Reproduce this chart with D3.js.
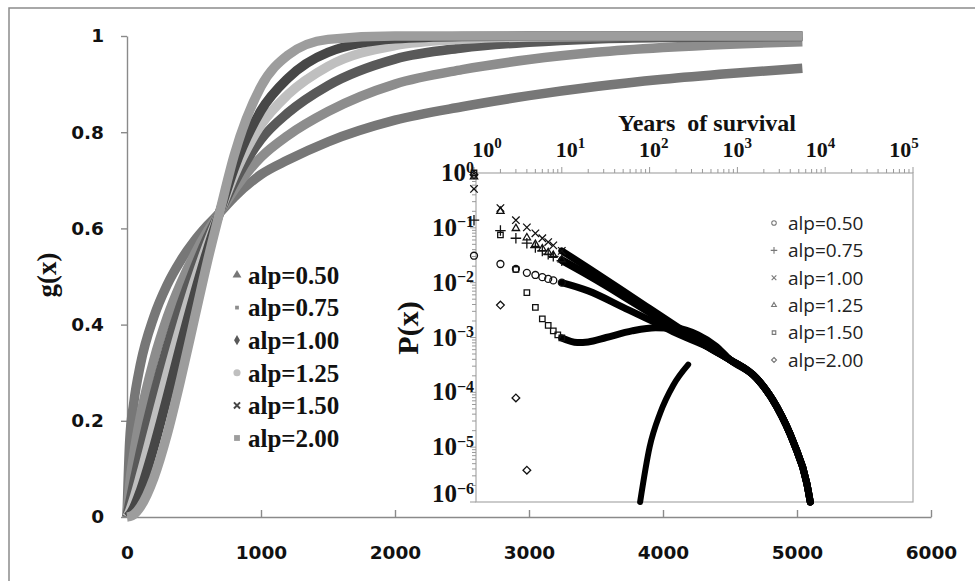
<!DOCTYPE html>
<html>
<head>
<meta charset="utf-8">
<script src="https://cdn.jsdelivr.net/npm/d3@7"></script>
<style>
  body { margin: 0; background: #fff; }
  svg { display: block; }
</style>
</head>
<body>
<svg id="chart" width="975" height="581"></svg>
<script>
// ---- main panel: g(x), one band per alp value
const gX = [0, 20, 50, 100, 200, 300, 400, 500, 600, 690, 800, 1000, 1200, 1500, 2000, 2500, 3000, 3500, 4000, 4500, 5040];
const g050 = [0, .157, .236, .317, .416, .483, .533, .573, .606, .632, .665, .712, .742, .780, .825, .853, .876, .895, .910, .922, .933];
const g075 = [0, .068, .130, .209, .326, .415, .485, .544, .594, .632, .680, .748, .793, .843, .900, .930, .951, .966, .976, .983, .988];
const g100 = [0, .029, .070, .135, .252, .353, .440, .515, .581, .632, .695, .785, .840, .897, .952, .975, .987, .994, .997, .998, .999];
const g125 = [0, .012, .037, .086, .192, .298, .397, .488, .568, .632, .710, .815, .878, .937, .980, .993, .998, .999, 1, 1, 1];
const g150 = [0, .005, .019, .054, .145, .249, .357, .460, .555, .632, .725, .845, .912, .966, .994, .999, 1, 1, 1, 1, 1];
const g200 = [0, .001, .005, .021, .081, .172, .285, .408, .531, .632, .752, .895, .960, .993, 1, 1, 1, 1, 1, 1, 1];
const alpNames = ["alp=0.50", "alp=0.75", "alp=1.00", "alp=1.25", "alp=1.50", "alp=2.00"];
const gTicksY = [0, 0.2, 0.4, 0.6, 0.8, 1];
const gTicksX = [0, 1000, 2000, 3000, 4000, 5000, 6000];

// ---- inset: P(x) against years of survival (log-log)
const pX = [1, 2, 3, 4, 5, 6, 7, 8, 10, 20, 50, 100, 200, 500, 830, 1660, 2820, 4370, 6170, 6760];
const p050 = [0.031, 0.0219, 0.0178, 0.0151, 0.0138, 0.0126, 0.0117, 0.011, 0.010, 0.00708, 0.00355, 0.00209, 0.0012, 6.3e-4, 3.9e-4, 1.8e-4, 5.4e-5, 1.2e-5, 2.2e-6, 1.0e-6];
const p075 = [0.138, 0.0891, 0.0646, 0.0525, 0.0437, 0.038, 0.0331, 0.0302, 0.0251, 0.0135, 0.00562, 0.00282, 0.00145, 6.3e-4, 3.9e-4, 1.8e-4, 5.4e-5, 1.2e-5, 2.2e-6, 1.0e-6];
const p100 = [0.513, 0.229, 0.138, 0.102, 0.0794, 0.0646, 0.055, 0.0479, 0.038, 0.0186, 0.00708, 0.00339, 0.00162, 6.2e-4, 3.9e-4, 1.8e-4, 5.4e-5, 1.2e-5, 2.2e-6, 1.0e-6];
const p125 = [0.85, 0.2, 0.0977, 0.0661, 0.0501, 0.0417, 0.0355, 0.0316, 0.0263, 0.0141, 0.00603, 0.00302, 0.00151, 6.3e-4, 3.9e-4, 1.8e-4, 5.4e-5, 1.2e-5, 2.2e-6, 1.0e-6];
const pX150 = [1, 2, 3, 4, 5, 6, 7, 8, 9, 10, 15, 20, 32, 63, 117, 200, 355, 560, 830, 1660, 2820, 4370, 6170, 6760];
const p150 = [1.0, 0.0741, 0.0174, 0.0066, 0.00355, 0.00219, 0.00166, 0.00132, 0.00112, 9.8e-4, 8.1e-4, 8.3e-4, 1.0e-3, 1.32e-3, 1.51e-3, 1.48e-3, 1.12e-3, 7.1e-4, 3.9e-4, 1.8e-4, 5.4e-5, 1.2e-5, 2.2e-6, 1.0e-6];
const pX200a = [1, 2, 3, 4];
const p200a = [0.93, 0.0039, 7.9e-5, 3.8e-6];
const pX200b = [78, 100, 132, 186, 275];
const p200b = [1.0e-6, 1.0e-5, 4.2e-5, 1.35e-4, 3.2e-4];

const svg = d3.select("#chart");
const serif = "'Liberation Serif', 'Times New Roman', serif";
const sansB = "'DejaVu Sans', Verdana, sans-serif";

// outer frame
svg.append("rect")
  .attr("x", 9).attr("y", 8).attr("width", 980).attr("height", 600)
  .attr("fill", "none").attr("stroke", "#8c8c8c").attr("stroke-width", 1.5);

// ---------- main chart ----------
const x = d3.scaleLinear().domain([0, 6000]).range([127, 931]);
const y = d3.scaleLinear().domain([0, 1]).range([517, 36]);

const yAxis = svg.append("g")
  .attr("transform", "translate(127,0)")
  .call(d3.axisLeft(y).tickValues(gTicksY).tickSize(6).tickSizeOuter(0).tickPadding(17)
    .tickFormat(d => (d === 0 || d === 1) ? String(d) : d.toFixed(1)));
const xAxis = svg.append("g")
  .attr("transform", "translate(0,517)")
  .call(d3.axisBottom(x).tickValues(gTicksX).tickSizeInner(-7).tickSizeOuter(0).tickPadding(29)
    .tickFormat(d3.format("d")));
[xAxis, yAxis].forEach(a => {
  a.selectAll("path, line").attr("stroke", "#8a8a8a").attr("stroke-width", 1.4);
  a.selectAll("text").attr("font-family", sansB).attr("font-weight", "bold")
    .attr("font-size", 18.5).attr("fill", "#111");
});

svg.append("text")
  .attr("transform", "translate(56,275) rotate(-90)")
  .attr("text-anchor", "middle")
  .attr("font-family", serif).attr("font-weight", "bold").attr("font-size", 27)
  .attr("fill", "#111").text("g(x)");

const gSeries = [
  { v: g050, color: "#777777", sym: d3.symbolTriangle, size: 34 },
  { v: g075, color: "#8d8d8d", sym: d3.symbolSquare, size: 14 },
  { v: g100, color: "#595959", sym: d3.symbolDiamond, size: 30 },
  { v: g125, color: "#bfbfbf", sym: d3.symbolCircle, size: 40 },
  { v: g150, color: "#474747", sym: d3.symbolX, size: 26, stroke: true },
  { v: g200, color: "#9d9d9d", sym: d3.symbolSquare, size: 34 }
];

const gLine = d3.line()
  .x(d => x(d[0]))
  .y(d => y(d[1]))
  .curve(d3.curveMonotoneX);

svg.append("g").attr("class", "g-curves")
  .selectAll("path")
  .data(gSeries)
  .join("path")
  .attr("d", s => gLine(gX.map((t, i) => [t, s.v[i]])))
  .attr("fill", "none")
  .attr("stroke", s => s.color)
  .attr("stroke-width", 9.5);

// main legend
const gLeg = svg.append("g").attr("class", "legend-main");
gSeries.forEach((s, i) => {
  const row = gLeg.append("g").attr("transform", `translate(237,${275 + i * 32.6})`);
  row.append("path")
    .attr("d", d3.symbol(s.sym, s.size)())
    .attr("fill", s.stroke ? "none" : s.color)
    .attr("stroke", s.stroke ? s.color : "none")
    .attr("stroke-width", 2);
  row.append("text")
    .attr("x", 11).attr("dy", "0.35em")
    .attr("font-family", serif).attr("font-weight", "bold").attr("font-size", 25)
    .attr("fill", "#111").text(alpNames[i]);
});

// ---------- inset ----------
const ix = d3.scaleLog().domain([1, 1e5]).range([474, 913]);
const iy = d3.scaleLog().domain([1e-6, 1]).range([502, 173]);

svg.append("rect")
  .attr("x", 476).attr("y", 173).attr("width", 437).attr("height", 329)
  .attr("fill", "#fff").attr("stroke", "#a8a8a8").attr("stroke-width", 1.2);

const isMajor = v => Math.abs(Math.log10(v) - Math.round(Math.log10(v))) < 1e-9;

// top axis ticks
const topAx = svg.append("g").attr("transform", "translate(0,173)");
topAx.selectAll("line").data(ix.ticks()).join("line")
  .attr("x1", d => ix(d)).attr("x2", d => ix(d))
  .attr("y1", 0).attr("y2", d => isMajor(d) ? -6 : -4)
  .attr("stroke", "#999").attr("stroke-width", 1);
// left axis ticks
const leftAx = svg.append("g").attr("transform", "translate(476,0)");
leftAx.selectAll("line").data(iy.ticks()).join("line")
  .attr("y1", d => iy(d)).attr("y2", d => iy(d))
  .attr("x1", 0).attr("x2", d => isMajor(d) ? -6 : -4)
  .attr("stroke", "#999").attr("stroke-width", 1);

const supLabel = (g, base, exp, fs, sfs, lift) => {
  const t = g.append("text").attr("font-family", serif).attr("fill", "#111");
  t.append("tspan").attr("font-size", fs).text(base);
  t.append("tspan").attr("font-size", sfs).attr("dy", -fs * lift).text(exp);
  return t;
};

const topDecades = [0, 1, 2, 3, 4, 5];
topDecades.forEach(k => {
  supLabel(svg, "10", String(k), 22, 15, 0.42)
    .attr("font-weight", "bold")
    .attr("x", ix(Math.pow(10, k)) + 13 - 4.4 * k).attr("y", 157)
    .attr("text-anchor", "middle");
});
const leftDecades = [0, -1, -2, -3, -4, -5, -6];
leftDecades.forEach(k => {
  supLabel(svg, "10", k === 0 ? "0" : "\u2212" + (-k), 25, 16, 0.34)
    .attr("font-weight", "bold")
    .attr("x", 474).attr("y", iy(Math.pow(10, k)) + (k === -6 ? 0 : 8))
    .attr("text-anchor", "end");
});

svg.append("text")
  .attr("x", 618).attr("y", 131)
  .attr("font-family", serif).attr("font-weight", "bold").attr("font-size", 24)
  .attr("fill", "#111").text("Years  of survival")
  .style("white-space", "pre");

svg.append("text")
  .attr("transform", "translate(418,328) rotate(-90)")
  .attr("text-anchor", "middle")
  .attr("font-family", serif).attr("font-weight", "bold").attr("font-size", 30)
  .attr("fill", "#111").text("P(x)");

const pSeries = [
  { xs: pX, v: p050, sym: d3.symbolCircle },
  { xs: pX, v: p075, sym: d3.symbolPlus },
  { xs: pX, v: p100, sym: d3.symbolX },
  { xs: pX, v: p125, sym: d3.symbolTriangle2 },
  { xs: pX150, v: p150, sym: d3.symbolSquare2 },
  { xs: pX200a, v: p200a, sym: d3.symbolDiamond2 }
];

const pLine = d3.line()
  .x(d => ix(d[0]))
  .y(d => iy(d[1]))
  .curve(d3.curveMonotoneX);

const plot = svg.append("g").attr("class", "inset-points");
pSeries.forEach(s => {
  const pts = s.xs.map((t, i) => [t, s.v[i]]);
  const dense = pts.filter(p => p[0] >= 10);
  if (dense.length > 1) {
    plot.append("path")
      .attr("d", pLine(dense))
      .attr("fill", "none").attr("stroke", "#000")
      .attr("stroke-width", 7).attr("stroke-linecap", "round");
  }
  plot.selectAll(null)
    .data(pts.filter(p => p[0] <= 10))
    .join("path")
    .attr("transform", p => `translate(${ix(p[0])},${iy(p[1])})`)
    .attr("d", d3.symbol(s.sym, 38)())
    .attr("fill", "none").attr("stroke", "#111").attr("stroke-width", 1.3);
});
// diamonds that come back above 1e-6 later on
plot.append("path")
  .attr("d", pLine(pX200b.map((t, i) => [t, p200b[i]])))
  .attr("fill", "none").attr("stroke", "#000")
  .attr("stroke-width", 6).attr("stroke-linecap", "round");

// inset legend
const pLeg = svg.append("g").attr("class", "legend-inset");
pSeries.forEach((s, i) => {
  const row = pLeg.append("g").attr("transform", `translate(774,${223 + i * 27.4})`);
  row.append("path")
    .attr("d", d3.symbol(s.sym, 16)())
    .attr("fill", "none").attr("stroke", "#777").attr("stroke-width", 1.1);
  row.append("text")
    .attr("x", 14).attr("dy", "0.36em")
    .attr("font-family", "'Open Sans', sans-serif").attr("font-size", 19)
    .attr("fill", "#222").text(alpNames[i]);
});
</script>
</body>
</html>
